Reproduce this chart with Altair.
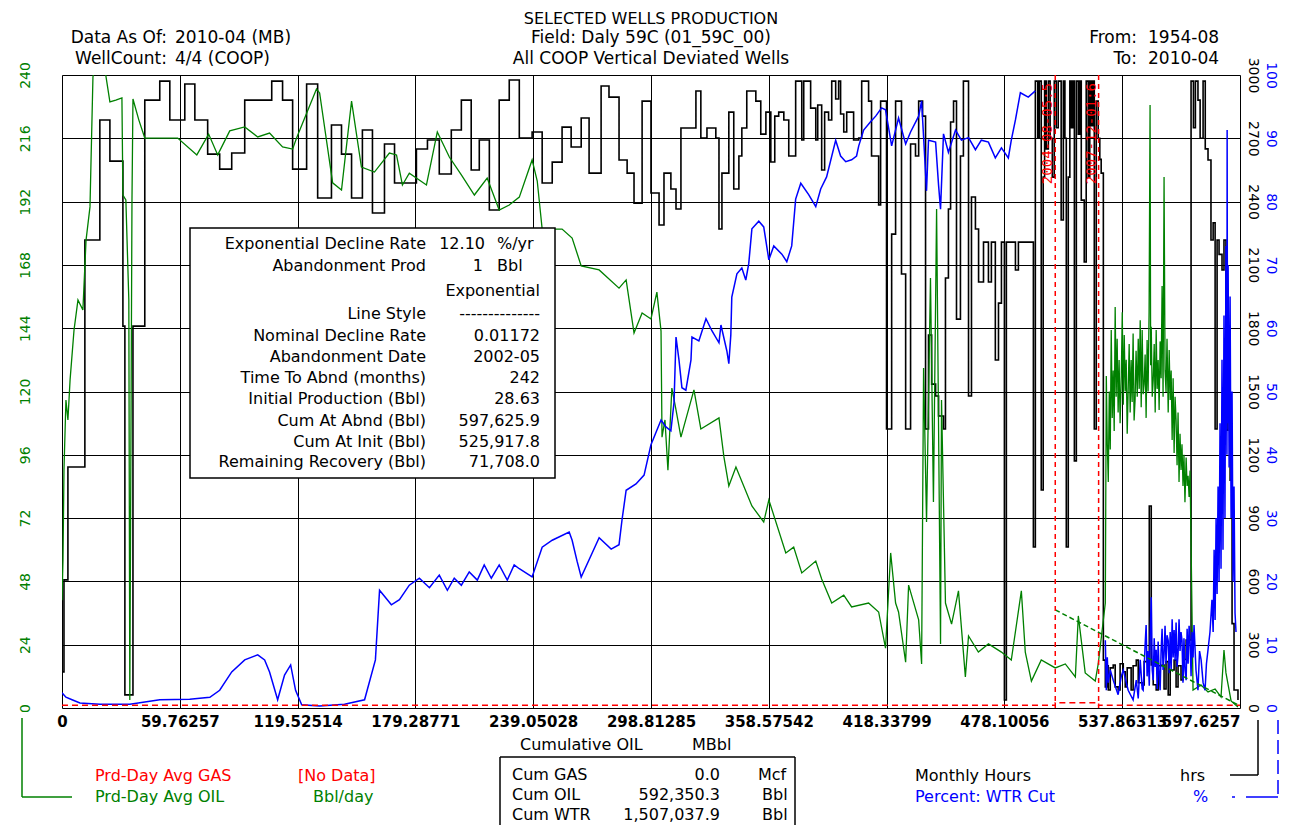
import altair as alt
import pandas as pd

# ---------------- data ----------------
x_ticks = [0, 59.76257, 119.52514, 179.28771, 239.05028, 298.81285,
           358.57542, 418.33799, 478.10056, 537.86313, 597.6257]
oil_ticks = [0, 24, 48, 72, 96, 120, 144, 168, 192, 216, 240]
hrs_ticks = [0, 300, 600, 900, 1200, 1500, 1800, 2100, 2400, 2700, 3000]
wtr_ticks = [0, 10, 20, 30, 40, 50, 60, 70, 80, 90, 100]

# Prd-Day Avg OIL (Bbl/day) vs cumulative oil (MBbl), up to ~526 MBbl
oil_x = [0, 0.5, 1.0, 2.0, 3.0, 4.1, 6.1, 8.1, 10.6, 12.2, 14.2, 15.7, 17.2, 19.2, 21.8,
         24.3, 27.3, 30.4, 30.9, 32.4, 33.9, 34.4, 35.5, 36.0, 39.0, 42.0, 58.7, 68.4,
         74.4, 79.0, 85.1, 92.7, 99.3, 105.3, 111.9, 117.0, 119.0, 129.1, 130.7, 137.3,
         141.8, 146.9, 151.9, 158.5, 166.1, 169.7, 172.7, 176.2, 184.9, 190.4, 196.5,
         202.6, 209.2, 215.7, 221.8, 226.9, 232.0, 238.5, 241.1, 243.6, 253.7, 258.8,
         263.4, 272.5, 282.6, 286.2, 290.2, 294.3, 298.8, 301.8, 303.9, 304.4, 305.9,
         307.4, 309.4, 311.5, 314.0, 320.6, 324.1, 333.3, 335.8, 338.3, 341.9, 350.0,
         356.0, 358.6, 367.2, 371.2, 375.3, 382.4, 385.4, 390.5, 396.6, 400.6, 409.2,
         414.3, 417.8, 420.4, 422.9, 424.4, 428.0, 429.5, 434.6, 436.1, 437.1, 438.6,
         440.6, 442.1, 443.7, 445.7, 446.2, 448.2, 451.3, 454.8, 458.3, 459.9, 464.9,
         470.0, 476.6, 481.6, 486.7, 488.7, 491.8, 496.8, 503.9, 509.0, 514.1, 515.6,
         519.1, 524.2, 525.7]
oil_y = [40.9, 56.1, 90.2, 116.8, 109.2, 124.4, 143.3, 154.7, 150.9, 177.4, 190.0, 239.2,
         245.7, 247.6, 241.9, 229.8, 230.5, 231.3, 194.5, 192.6, 154.7, 3.0, 192.6, 230.9,
         222.9, 216.1, 216.1, 209.7, 217.6, 209.7, 218.8, 220.3, 216.5, 218.0, 212.7, 211.9,
         216.1, 234.7, 233.2, 199.1, 196.4, 230.1, 205.1, 203.2, 210.4, 209.7, 198.3, 202.8,
         198.3, 218.4, 208.9, 202.1, 194.5, 200.9, 188.8, 190.7, 193.7, 207.8, 199.8, 181.6,
         181.6, 178.2, 167.6, 166.1, 159.2, 162.3, 142.2, 149.8, 147.5, 157.7, 142.9, 102.7,
         109.2, 90.2, 121.3, 113.0, 102.7, 120.6, 105.8, 110.0, 95.2, 84.2, 91.4, 76.6, 70.5,
         78.9, 58.8, 61.0, 51.2, 55.7, 48.9, 39.8, 42.8, 38.3, 39.8, 36.4, 22.7, 58.8, 39.8,
         36.4, 17.4, 46.6, 33.4, 16.7, 128.9, 70.5, 163.0, 78.1, 189.2, 24.3, 116.8, 39.8,
         31.8, 44.4, 11.8, 27.3, 21.2, 24.3, 21.2, 18.2, 44.4, 21.2, 10.2, 18.2, 15.2, 16.7,
         11.8, 34.9, 13.3, 10.2, 16.7]
# oil after ~529 MBbl (dense recent production): (cum oil MBbl, Bbl/day)
oil_late = [(529.3, 39.8), (529.8, 125.9), (530.3, 100.0), (530.8, 85.7), (531.3, 120.0),
            (531.8, 98.0), (532.3, 143.3), (532.8, 110.0), (533.3, 128.0), (533.8, 105.0),
            (534.3, 152.0), (534.8, 118.0), (535.3, 140.0), (535.8, 112.0), (536.3, 131.9),
            (536.8, 108.0), (537.4, 125.9), (537.9, 150.0), (538.4, 115.0), (538.9, 141.4),
            (539.4, 120.0), (539.9, 132.0), (540.4, 104.0), (540.9, 120.6), (541.4, 138.0),
            (541.9, 112.0), (542.4, 131.9), (542.9, 116.0), (543.4, 142.0), (543.9, 109.0),
            (544.4, 116.8), (544.9, 135.4), (545.5, 118.0), (546.0, 140.0), (546.5, 121.0),
            (547.0, 147.0), (547.5, 114.0), (548.0, 143.3), (548.5, 119.0), (549.0, 122.8),
            (549.5, 134.0), (550.0, 110.0), (550.5, 139.5), (551.0, 120.0), (551.5, 150.0),
            (552.0, 228.6), (552.3, 130.0), (552.6, 144.5), (553.1, 118.0), (553.6, 124.4),
            (554.1, 138.0), (554.6, 112.0), (555.1, 143.3), (555.6, 121.0), (556.1, 131.9),
            (556.6, 113.0), (557.1, 139.0), (557.6, 125.0), (558.1, 160.0), (558.6, 118.0),
            (559.1, 201.3), (559.6, 128.0), (560.1, 119.8), (560.6, 140.0), (561.2, 112.0),
            (561.7, 135.7), (562.2, 116.8), (562.7, 128.0), (563.2, 101.6), (563.7, 125.0),
            (564.2, 96.7), (564.7, 118.0), (565.2, 109.2), (565.7, 92.0), (566.2, 112.0),
            (566.7, 85.7), (567.2, 104.0), (567.7, 90.2), (568.2, 100.0), (568.7, 84.2),
            (569.2, 96.0), (569.7, 78.0), (570.3, 95.0), (570.8, 84.2), (571.3, 88.0),
            (571.8, 80.0), (572.3, 90.0), (573.8, 6.8), (577.9, 8.7), (581.4, 6.1),
            (585.0, 7.2), (588.0, 4.2), (589.5, 22.0), (590.5, 13.3), (593.1, 2.7),
            (596.6, 0.4)]

# Monthly Hours (hrs), step line, up to ~493 MBbl
hrs_x = [0, 1.0, 3.0, 11.6, 19.2, 24.3, 30.9, 31.9, 36.0, 42.0, 49.6, 54.7, 62.3, 67.4,
         73.9, 80.0, 86.1, 92.7, 106.4, 111.9, 117.0, 124.1, 129.7, 136.7, 141.8, 146.9,
         152.4, 157.5, 163.6, 168.7, 179.8, 185.4, 191.4, 197.5, 202.6, 207.6, 211.7, 216.8,
         221.8, 226.9, 232.0, 238.5, 243.6, 248.7, 253.7, 258.3, 263.4, 267.4, 273.5, 277.5,
         282.6, 286.7, 290.2, 294.3, 298.8, 302.9, 305.4, 308.9, 311.5, 314.0, 321.6, 324.1,
         327.2, 331.7, 333.3, 334.8, 338.3, 340.8, 343.4, 344.9, 347.4, 352.0, 354.5, 357.1,
         359.6, 361.6, 363.6, 366.2, 368.7, 372.2, 375.3, 376.3, 379.8, 382.4, 383.4, 385.4,
         386.9, 388.9, 390.5, 392.5, 394.0, 395.0, 396.6, 398.1, 401.6, 404.2, 405.7, 409.2,
         410.7, 414.3, 415.3, 418.3, 420.9, 422.9, 425.9, 428.0, 430.5, 433.0, 434.6, 436.6,
         438.1, 439.6, 441.2, 443.2, 444.7, 447.2, 448.2, 449.7, 450.8, 452.3, 453.8, 455.8,
         457.3, 459.9, 461.4, 463.4, 465.0, 467.5, 470.0, 471.5, 473.5, 475.1, 476.6, 478.1,
         479.1, 483.7, 485.2, 491.8, 492.8]
hrs_v = [171, 607, 1142, 2218, 2787, 2592, 1810, 62, 1810, 2881, 2971, 2787, 2957, 2787,
         2625, 2554, 2630, 2881, 2971, 2881, 2554, 2957, 2417, 2763, 2625, 2417, 2739, 2346,
         2673, 2488, 2649, 2692, 2531, 2739, 2881, 2550, 2692, 2360, 2881, 2976, 2701, 2730,
         2488, 2587, 2753, 2659, 2796, 2535, 2948, 2895, 2597, 2535, 2393, 2876, 2441, 2289,
         2535, 2460, 2365, 2749, 2924, 2701, 2749, 2701, 2270, 2535, 2824, 2460, 2616, 2749,
         2924, 2876, 2720, 2824, 2588, 2805, 2824, 2787, 2616, 2971, 2692, 2971, 2843, 2692,
         2858, 2550, 2824, 2787, 2971, 2886, 2971, 2815, 2730, 2824, 2692, 2701, 2971, 2876,
         2616, 2384, 2876, 1322, 2246, 2876, 2057, 1322, 2673, 2616, 2876, 2805, 1322, 1768,
         1535, 1479, 1384, 1322, 2038, 2365, 2777, 2876, 1843, 2616, 2971, 1479, 2422, 2270,
         2019, 2208, 2019, 2208, 1649, 1919, 2208, 38, 2208, 2076, 2208, 2208, 763]
# hours after ~493 MBbl: (cum oil MBbl, hrs)
hrs_late = [(493.8, 2971), (495.0, 2700), (495.8, 2971), (496.8, 1033), (497.8, 2516),
            (498.5, 2971), (499.3, 2650), (500.4, 2971), (501.3, 2700), (502.4, 2516),
            (503.4, 2971), (504.4, 2750), (505.4, 2971), (506.9, 2313), (508.0, 2971),
            (508.8, 2700), (509.5, 763), (510.5, 2516), (511.3, 2971), (512.1, 2750),
            (512.8, 2971), (513.6, 1171), (514.6, 2971), (515.6, 2720), (516.4, 2971),
            (517.1, 2407), (518.6, 2114), (519.6, 2971), (520.6, 2516), (521.4, 2971),
            (522.2, 2760), (523.0, 2971), (523.7, 1322), (524.7, 2876), (525.7, 2700),
            (526.5, 2600), (527.2, 2535), (528.3, 227), (529.3, 100), (530.3, 200),
            (530.8, 85), (531.8, 190), (533.3, 204), (534.3, 100), (535.8, 85), (536.8, 210),
            (538.4, 171), (539.4, 100), (540.4, 190), (542.4, 85), (543.4, 200), (545.0, 227),
            (546.0, 120), (548.0, 109), (549.0, 220), (551.6, 957), (552.6, 204), (553.6, 110),
            (555.1, 85), (556.1, 200), (558.1, 204), (559.1, 90), (560.1, 220), (561.2, 62),
            (562.2, 180), (564.2, 227), (565.2, 100), (566.2, 200), (567.7, 133), (568.7, 230),
            (570.3, 322), (572.8, 2971), (574.0, 2750), (575.0, 2971), (576.3, 2881),
            (577.4, 2700), (578.9, 2971), (580.0, 2650), (581.4, 2597), (582.9, 2218),
            (584.0, 2300), (585.0, 1322), (586.0, 2218), (587.0, 2150), (588.5, 2076),
            (589.5, 2218), (590.5, 1317), (591.5, 1500), (592.6, 1080), (593.6, 400),
            (594.6, 85), (596.6, 38)]

# Percent: WTR Cut (%), up to ~494 MBbl
wtr_x = [0, 2.0, 5.1, 9.1, 19.2, 34.4, 49.6, 64.8, 75.0, 80.0, 86.1, 92.7, 99.3, 102.8,
         105.3, 109.4, 112.9, 116.0, 118.5, 121.6, 130.7, 143.3, 153.5, 159.0, 161.1, 167.1,
         171.2, 176.2, 181.3, 186.4, 191.4, 195.5, 199.0, 202.6, 206.6, 210.7, 214.2, 217.8,
         221.8, 225.9, 229.4, 232.0, 238.5, 243.6, 248.7, 257.3, 258.8, 261.3, 263.4, 272.5,
         278.6, 282.6, 284.1, 286.2, 291.2, 295.3, 298.8, 303.9, 306.4, 308.9, 310.5, 311.5,
         313.0, 314.5, 316.5, 319.1, 319.6, 323.1, 326.7, 329.7, 333.3, 334.3, 337.3, 338.3,
         339.3, 339.8, 342.4, 344.9, 346.9, 348.4, 350.0, 353.5, 356.0, 358.6, 361.1, 365.2,
         367.7, 370.2, 372.2, 374.8, 378.8, 382.4, 384.9, 387.9, 392.5, 395.0, 397.6, 400.6,
         403.1, 404.2, 406.7, 410.2, 412.8, 415.8, 417.8, 420.9, 424.4, 428.0, 430.5, 434.6,
         436.1, 438.6, 439.6, 443.2, 444.7, 445.7, 447.2, 449.7, 453.3, 456.3, 459.9, 463.4,
         466.4, 470.0, 473.5, 476.6, 480.1, 481.6, 483.7, 486.2, 490.2, 493.8]
wtr_v = [2.4, 1.7, 1.3, 0.8, 0.6, 0.6, 1.3, 1.4, 1.7, 2.8, 5.7, 7.6, 8.4, 7.6, 5.7, 1.3,
         5.2, 6.8, 2.8, 0.5, 0.3, 0.6, 1.3, 7.6, 18.6, 16.3, 17.1, 19.4, 20.5, 19.0, 21.0,
         18.6, 20.5, 19.4, 21.5, 20.2, 22.6, 20.5, 22.6, 20.2, 22.6, 22.0, 20.7, 25.4, 26.5,
         27.8, 26.5, 23.2, 20.7, 26.9, 25.1, 25.8, 29.7, 34.4, 35.4, 36.8, 41.6, 45.5, 44.4,
         43.8, 48.3, 58.6, 55.0, 50.6, 50.2, 55.0, 58.6, 58.0, 61.5, 59.6, 57.7, 60.5, 56.4,
         54.4, 58.9, 64.9, 68.6, 69.5, 67.6, 70.2, 75.7, 76.9, 76.0, 70.8, 73.0, 71.7, 70.5,
         73.0, 80.4, 82.9, 81.1, 79.2, 82.0, 83.9, 89.7, 87.2, 86.3, 86.6, 87.2, 88.8, 91.3,
         92.6, 93.5, 94.8, 94.5, 88.8, 93.2, 89.1, 91.0, 93.5, 95.9, 81.7, 89.7, 89.4, 82.6,
         78.8, 90.7, 87.8, 91.3, 89.7, 90.1, 88.2, 89.7, 89.4, 86.9, 88.5, 86.9, 89.7, 92.9,
         97.2, 96.5, 97.5]
# water cut after the data gap: (cum oil MBbl, %)
wtr_late = [(529.3, 10.7), (529.8, 2.8), (530.3, 8.0), (530.8, 4.0), (531.8, 6.0),
            (533.3, 4.4), (535.8, 2.1), (537.4, 5.0), (538.4, 6.0), (540.9, 2.8), (543.4, 1.3),
            (545.0, 4.4), (546.0, 1.5), (547.0, 7.6), (548.0, 3.0), (548.5, 2.8), (549.5, 10.0),
            (550.0, 13.1), (550.5, 5.0), (551.0, 9.0), (551.6, 3.5), (552.1, 12.0),
            (552.6, 17.5), (553.1, 6.0), (553.6, 4.4), (554.1, 11.0), (554.6, 6.5),
            (555.1, 9.2), (555.6, 3.0), (556.1, 10.5), (556.6, 5.5), (557.1, 2.8), (557.6, 9.0),
            (558.1, 12.5), (558.6, 6.0), (559.1, 8.4), (559.6, 13.0), (560.1, 7.0),
            (560.6, 11.5), (561.2, 10.7), (561.7, 5.5), (562.2, 12.0), (562.7, 6.0),
            (563.2, 14.0), (563.7, 8.0), (564.2, 12.3), (564.7, 7.5), (565.2, 13.5),
            (565.7, 6.5), (566.2, 8.4), (566.7, 14.0), (567.2, 9.0), (567.7, 12.0),
            (568.2, 10.7), (568.7, 4.0), (569.2, 11.0), (569.7, 6.0), (570.3, 4.4),
            (570.8, 12.5), (571.3, 7.0), (571.8, 13.0), (572.3, 10.7), (572.8, 5.0),
            (573.3, 12.0), (573.8, 8.0), (574.3, 13.1), (575.3, 6.0), (576.3, 2.8), (577.1, 9.0),
            (577.9, 7.6), (578.9, 4.0), (579.9, 2.8), (580.6, 7.0), (581.4, 9.2), (582.4, 12.0),
            (583.4, 17.1), (584.0, 12.0), (584.5, 25.0), (585.0, 13.9), (585.5, 30.0),
            (586.0, 18.0), (586.5, 35.0), (587.0, 20.0), (587.5, 45.0), (588.0, 22.0),
            (588.5, 55.0), (589.0, 25.0), (589.5, 62.0), (590.0, 30.0), (590.5, 73.0),
            (591.0, 40.0), (591.1, 91.3), (591.3, 45.0), (591.6, 70.0), (592.1, 38.0),
            (592.6, 65.0), (593.1, 30.0), (593.6, 50.0), (594.1, 20.0), (594.6, 35.0),
            (595.1, 15.0), (595.6, 12.0)]

# Prd-Day Avg GAS: no data (drawn along the base)
gas_x = [0, 503.9, 503.9, 525.9, 525.9, 597.6257]
gas_y = [1, 1, 2, 2, 1, 1]

# Exponential decline forecast
dec_x = [503.9, 597.6]
dec_y = [37.2, 0.8]

# Event markers
mark_x = [503.9, 525.9]
mark_lbl = ["2004-08-05:5", "2007-12-01:6"]

GREEN = "#008000"
BLUE = "#0000ff"
RED = "#ff0000"
FONT = "DejaVu Sans"

oil_df = pd.DataFrame({"x": oil_x + [p[0] for p in oil_late],
                       "y": oil_y + [p[1] for p in oil_late]})
hrs_df = pd.DataFrame({"x": hrs_x + [p[0] for p in hrs_late],
                       "h": hrs_v + [p[1] for p in hrs_late]})
wtr_df = pd.DataFrame({"x": wtr_x + [p[0] for p in wtr_late],
                       "w": wtr_v + [p[1] for p in wtr_late],
                       "seg": [1] * len(wtr_x) + [2] * len(wtr_late)})
gas_df = pd.DataFrame({"x": gas_x, "g": gas_y})
dec_df = pd.DataFrame({"x": dec_x, "d": dec_y})
mk_df = pd.DataFrame({"x": mark_x, "lbl": mark_lbl})
one = pd.DataFrame({"k": [0]})

xscale = alt.Scale(domain=[0, 597.6257], nice=False, zero=False)
xaxis = alt.Axis(values=x_ticks, labelExpr="format(datum.value, '.8~g')",
                 grid=True, gridColor="black", gridOpacity=1, gridWidth=1,
                 domain=False, ticks=False, labelColor="black", labelFont=FONT,
                 labelFontSize=15, labelFontWeight="bold", labelPadding=6, title=None,
                 labelOverlap=False, labelBound=False, labelFlush=False,
                 labelAlign={"condition": {"test": "datum.value > 590", "value": "right"},
                             "value": "center"})
X = alt.X("x:Q", scale=xscale, axis=xaxis)

oil_scale = alt.Scale(domain=[0, 240], nice=False)

oil = alt.Chart(oil_df).mark_line(color=GREEN, strokeWidth=1.3, clip=True).encode(
    x=X,
    y=alt.Y("y:Q", scale=oil_scale,
            axis=alt.Axis(orient="left", values=oil_ticks, grid=True, gridColor="black",
                          gridOpacity=1, gridWidth=1, domain=False, ticks=False,
                          labelAngle=270, labelColor=GREEN, labelFont=FONT,
                          labelFontSize=14, labelPadding=30, labelBaseline="bottom",
                          labelAlign="center", title=None)))

hrs = alt.Chart(hrs_df).mark_line(color="black", strokeWidth=1.6, interpolate="step-after",
                                  clip=True).encode(
    x=X,
    y=alt.Y("h:Q", scale=alt.Scale(domain=[0, 3000], nice=False),
            axis=alt.Axis(orient="right", values=hrs_ticks, format="d", grid=False,
                          domain=False, ticks=False, labelAngle=90, labelColor="black",
                          labelFont=FONT, labelFontSize=14, labelPadding=5,
                          labelBaseline="bottom", labelAlign="center", title=None)))

wtr = alt.Chart(wtr_df).mark_line(color=BLUE, strokeWidth=1.5, clip=True).encode(
    x=X,
    y=alt.Y("w:Q", scale=alt.Scale(domain=[0, 100], nice=False),
            axis=alt.Axis(orient="right", values=wtr_ticks, format="d", grid=False,
                          domain=False, ticks=False, labelAngle=90, labelColor=BLUE,
                          labelFont=FONT, labelFontSize=14, labelPadding=23,
                          labelBaseline="bottom", labelAlign="center", title=None)),
    detail="seg:N")

gas = alt.Chart(gas_df).mark_line(color=RED, strokeWidth=1.5, strokeDash=[6, 4]).encode(
    x=X, y=alt.Y("g:Q", scale=oil_scale, axis=None))

dec = alt.Chart(dec_df).mark_line(color=GREEN, strokeWidth=1.5, strokeDash=[5, 3]).encode(
    x=X, y=alt.Y("d:Q", scale=oil_scale, axis=None))

mk = alt.Chart(mk_df).mark_rule(color=RED, strokeWidth=1.5, strokeDash=[5, 4]).encode(x=X)
mk_txt = alt.Chart(mk_df).mark_text(color=RED, angle=270, align="right", baseline="bottom",
                                    font="DejaVu Sans Mono", fontSize=14).encode(
    x=X, y=alt.value(8), text="lbl:N")


def T(text, x, y, color="black", align="left", size=16, weight="normal"):
    return alt.Chart(one).mark_text(text=text, align=align, baseline="middle", color=color,
                                    fontSize=size, fontWeight=weight, font=FONT).encode(
        x=alt.value(x), y=alt.value(y))


def R(x1, x2, y1, y2, color="black", width=1.0, dash=None):
    kw = dict(color=color, strokeWidth=width)
    if dash:
        kw["strokeDash"] = dash
    return alt.Chart(one).mark_rule(**kw).encode(
        x=alt.value(x1), x2=alt.value(x2), y=alt.value(y1), y2=alt.value(y2))


ann = []
# header
ann += [T("SELECTED WELLS PRODUCTION", 589, -56, align="center", size=16),
        T("Field: Daly 59C (01_59C_00)", 589, -37, align="center", size=17),
        T("All COOP Vertical Deviated Wells", 589, -16, align="center", size=17),
        T("Data As Of:", 105, -37, align="right", size=17),
        T("2010-04 (MB)", 113, -37, size=17),
        T("WellCount:", 105, -16, align="right", size=17),
        T("4/4 (COOP)", 113, -16, size=17),
        T("From:", 1075, -37, align="right", size=17),
        T("1954-08", 1086, -37, size=17),
        T("To:", 1075, -16, align="right", size=17),
        T("2010-04", 1086, -16, size=17)]

# decline info box
box = alt.Chart(one).mark_rect(fill="white", stroke="black", strokeWidth=1.5).encode(
    x=alt.value(128), x2=alt.value(493), y=alt.value(153), y2=alt.value(403))
ann.append(box)
row_y = [169, 191, 216, 239, 261, 282, 303, 324, 346, 367, 387]
labels = ["Exponential Decline Rate", "Abandonment Prod", "", "Line Style",
          "Nominal Decline Rate", "Abandonment Date", "Time To Abnd (months)",
          "Initial Production (Bbl)", "Cum At Abnd (Bbl)", "Cum At Init (Bbl)",
          "Remaining Recovery (Bbl)"]
values = ["", "", "Exponential", "--------------", "0.01172", "2002-05", "242", "28.63",
          "597,625.9", "525,917.8", "71,708.0"]
for lab, val, yy in zip(labels, values, row_y):
    if lab:
        ann.append(T(lab, 364, yy, align="right"))
    if val:
        ann.append(T(val, 478, yy, align="right"))
ann += [T("12.10", 423, row_y[0], align="right"), T("%/yr", 435, row_y[0]),
        T("1", 421, row_y[1], align="right"), T("Bbl", 435, row_y[1])]

# bottom
ann += [T("Cumulative OIL", 458, 670), T("MBbl", 630, 670),
        T("Prd-Day Avg GAS", 33, 701, color=RED), T("[No Data]", 236, 701, color=RED),
        T("Prd-Day Avg OIL", 33, 722, color=GREEN), T("Bbl/day", 251, 722, color=GREEN),
        R(-40, -40, 643, 722, color=GREEN, width=1.5), R(-40, 10, 722, 722, color=GREEN, width=1.5),
        R(438, 733, 682, 682, width=1.5), R(438, 438, 682, 760, width=1.5),
        R(733, 733, 682, 760, width=1.5),
        T("Cum GAS", 450, 700), T("0.0", 658, 700, align="right"), T("Mcf", 696, 700),
        T("Cum OIL", 450, 720), T("592,350.3", 658, 720, align="right"), T("Bbl", 700, 720),
        T("Cum WTR", 450, 740), T("1,507,037.9", 658, 740, align="right"), T("Bbl", 700, 740),
        T("Monthly Hours", 853, 701), T("hrs", 1118, 701),
        T("Percent: WTR Cut", 853, 722, color=BLUE), T("%", 1131, 722, color=BLUE),
        R(1196, 1196, 645, 700, width=1.5), R(1168, 1196, 700, 700, width=1.5),
        R(1216, 1216, 645, 722, color=BLUE, width=1.5, dash=[14, 6]),
        R(1184, 1216, 722, 722, color=BLUE, width=1.5),
        R(1170, 1173, 722, 722, color=BLUE, width=1.5)]

chart = alt.layer(hrs, oil, wtr, gas, dec, mk, mk_txt, *ann).resolve_scale(
    y="independent"
).properties(
    width=1178, height=633,
    autosize=alt.AutoSizeParams(type="none"),
    padding={"left": 54, "top": 67, "right": 41, "bottom": 117},
).configure_view(stroke="black", strokeWidth=1.5).configure(background="white")

chart.save("out.html", embed_options={"renderer": "svg", "actions": False})
